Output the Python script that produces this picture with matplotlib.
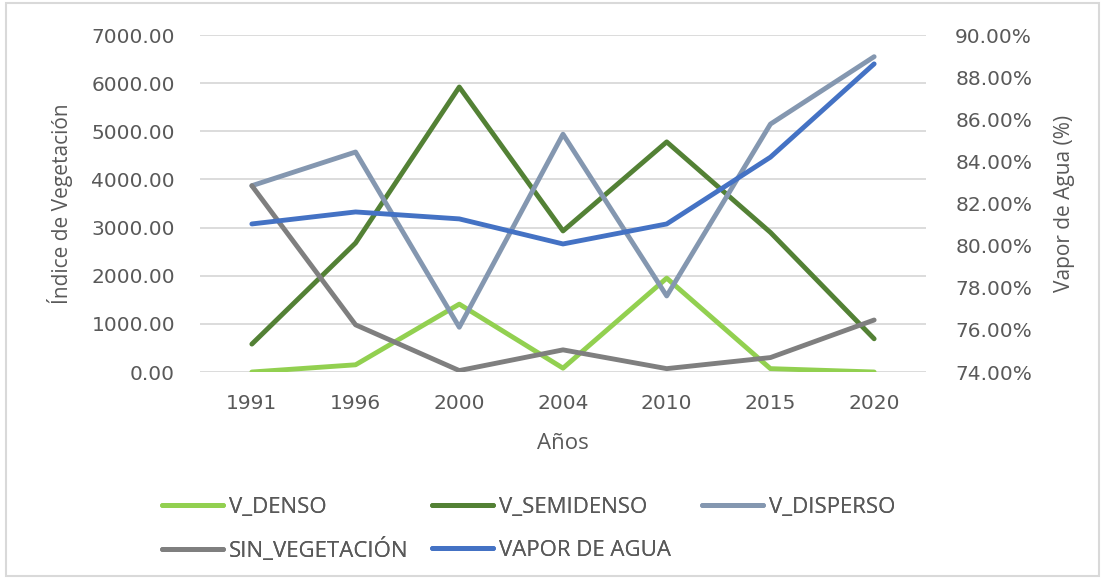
import matplotlib.pyplot as plt
from matplotlib.patches import Rectangle
from matplotlib.ticker import FuncFormatter

plt.rcParams['font.family'] = ['Open Sans', 'DejaVu Sans']

# datos
anios = ['1991', '1996', '2000', '2004', '2010', '2015', '2020']
v_denso = [0, 150, 1410, 80, 1950, 70, 0]
v_semidenso = [580, 2680, 5920, 2930, 4780, 2900, 690]
v_disperso = [3870, 4570, 930, 4940, 1580, 5150, 6550]
sin_vegetacion = [3870, 980, 30, 460, 70, 300, 1080]
vapor_agua = [81.03, 81.60, 81.27, 80.08, 81.03, 84.20, 88.63]

gris = '#595959'

fig = plt.figure(figsize=(11.05, 5.79), dpi=100)
fig.patches.append(Rectangle((0.005, 0.005), 0.99, 0.99, transform=fig.transFigure,
                             fill=False, edgecolor='#D9D9D9', linewidth=1.5))

ax = fig.add_axes([0.181, 0.3575, 0.657, 0.582])
ax2 = ax.twinx()

x = range(len(anios))
lw = 3.5
l1, = ax.plot(x, v_denso, color='#92D050', lw=lw, label='V_DENSO', solid_capstyle='round')
l2, = ax.plot(x, v_semidenso, color='#538135', lw=lw, label='V_SEMIDENSO', solid_capstyle='round')
l3, = ax.plot(x, v_disperso, color='#8497B0', lw=lw, label='V_DISPERSO', solid_capstyle='round')
l4, = ax.plot(x, sin_vegetacion, color='#7F7F7F', lw=lw, label='SIN_VEGETACIÓN', solid_capstyle='round')
l5, = ax2.plot(x, vapor_agua, color='#4472C4', lw=lw, label='VAPOR DE AGUA', solid_capstyle='round')

ax.set_xlim(-0.5, 6.5)
ax.set_ylim(0, 7000)
ax.set_yticks(range(0, 7001, 1000))
ax.yaxis.set_major_formatter(FuncFormatter(lambda v, p: f'{v:.2f}'))
ax2.set_ylim(74, 90)
ax2.set_yticks(range(74, 91, 2))
ax2.yaxis.set_major_formatter(FuncFormatter(lambda v, p: f'{v:.2f}%'))

ax.set_xticks(list(x))
ax.set_xticklabels(anios)
ax.grid(axis='y', color='#D9D9D9', lw=1.3)
ax.set_axisbelow(True)

for a in (ax, ax2):
    for s in a.spines.values():
        s.set_visible(False)
    a.tick_params(length=0, colors=gris)
    for t in a.get_xticklabels() + a.get_yticklabels():
        t.set_fontfamily('DejaVu Sans')
        t.set_fontsize(14.5)
ax.tick_params(axis='y', pad=18)
ax.tick_params(axis='x', pad=16)
ax2.tick_params(axis='y', pad=21)

ax.set_xlabel('Años', fontsize=16, color=gris, labelpad=14.5)
ax.set_ylabel('Índice de Vegetación', fontsize=15, color=gris, labelpad=13)
ax2.set_ylabel('Vapor de Agua (%)', fontsize=15, color=gris, labelpad=16)

# leyenda: filas como en Excel
filas = [(l1, 162, 507), (l2, 432, 507), (l3, 702, 507),
         (l4, 162, 550), (l5, 432, 550)]
for h, px, py in filas:
    leg = fig.legend(handles=[h], loc='center left',
                     bbox_to_anchor=(px / 1105, 1 - py / 579), frameon=False,
                     fontsize=16, handlelength=2.75, handletextpad=0.25,
                     borderpad=0, borderaxespad=0)
    for t in leg.get_texts():
        t.set_color(gris)
    fig.add_artist(leg)

fig.savefig('out.png', dpi=100)
